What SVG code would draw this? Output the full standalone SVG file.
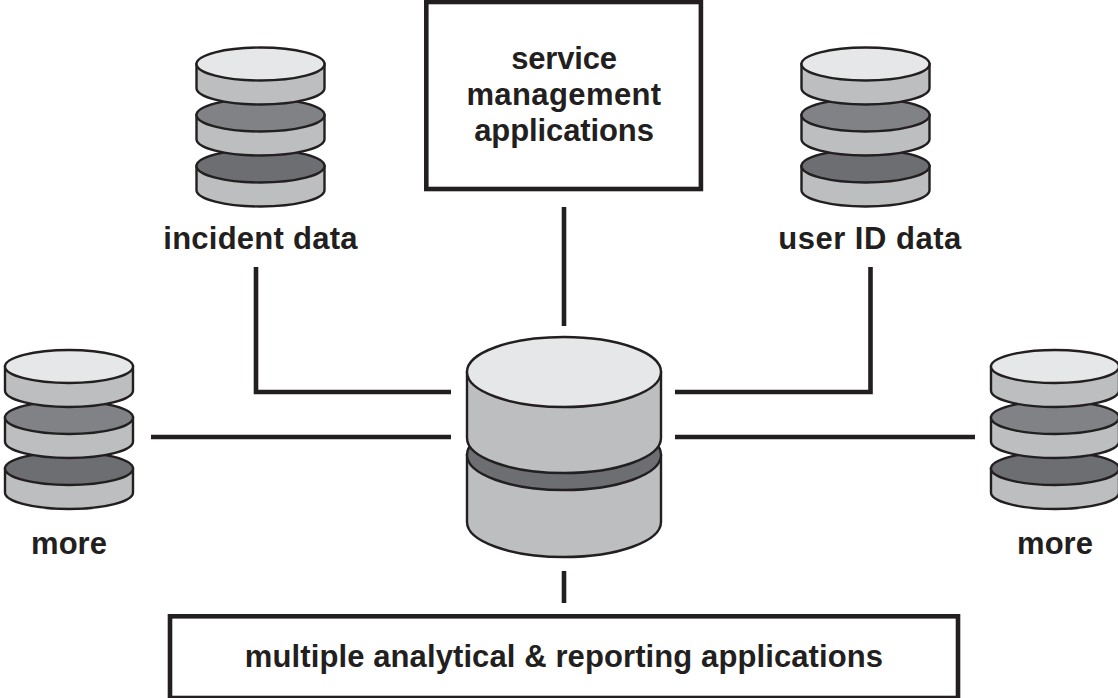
<svg xmlns="http://www.w3.org/2000/svg" width="1118" height="698" viewBox="0 0 1118 698">
<style>
.o{stroke:#231f20;stroke-width:2.4}
.w{fill:#bcbec0}.l{fill:#e6e7e8}.m{fill:#808285}.d{fill:#6d6e71}
.t{font-family:"Liberation Sans",Arial,sans-serif;font-weight:700;font-size:31px;fill:#231f20;text-anchor:middle}
.c{fill:none;stroke:#231f20;stroke-width:4.6}
.b{fill:#fff;stroke:#231f20;stroke-width:4.6}
</style>
<defs>
<path id="wall" class="o w" d="M-64 0V24A64 16.5 0 0 0 64 24V0Z"/>
<g id="stack">
<use href="#wall" y="102"/><ellipse class="o d" cx="0" cy="102" rx="64" ry="16.5"/>
<use href="#wall" y="51"/><ellipse class="o m" cx="0" cy="51" rx="64" ry="16.5"/>
<use href="#wall"/><ellipse class="o l" cx="0" cy="0" rx="64" ry="16.5"/>
</g>
</defs>
<rect width="1118" height="698" fill="#fff"/>
<g id="connectors">
<path class="c" d="M256 267V392H451"/>
<path class="c" d="M870.500 267V392H675"/>
<path class="c" d="M151 437H451"/>
<path class="c" d="M675 437H975"/>
<path class="c" d="M564 207V326"/>
<path class="c" d="M564 571V603"/>
</g>
<g id="service-box"><rect class="b" x="426.300" y="2" width="274.600" height="187"/>
<text class="t" x="564" y="69" letter-spacing="-0.2">service</text><text class="t" x="564" y="105" letter-spacing="0.4">management</text><text class="t" x="564" y="141" letter-spacing="-0.1">applications</text></g>
<g id="reporting-box"><rect class="b" x="170" y="616.300" width="788" height="81.700"/>
<text class="t" x="564" y="667" letter-spacing="0.1">multiple analytical &amp; reporting applications</text></g>
<g id="incident-data"><use href="#stack" x="260.500" y="64"/><text class="t" x="260.500" y="249" letter-spacing="0.25">incident data</text></g>
<g id="user-id-data"><use href="#stack" x="865.500" y="64"/><text class="t" x="870" y="249" letter-spacing="0.5">user ID data</text></g>
<g id="more-left"><use href="#stack" x="69" y="366.500"/><text class="t" x="69" y="554">more</text></g>
<g id="more-right"><use href="#stack" x="1055" y="366.500"/><text class="t" x="1055" y="554">more</text></g>
<g id="central-store">
<path class="o w" d="M467 455V522A97 35 0 0 0 661 522V455Z"/>
<ellipse class="o d" cx="564" cy="455" rx="97" ry="35"/>
<path class="o w" d="M467 372V438A97 35 0 0 0 661 438V372Z"/>
<ellipse class="o l" cx="564" cy="372" rx="97" ry="35"/>
</g>
</svg>
